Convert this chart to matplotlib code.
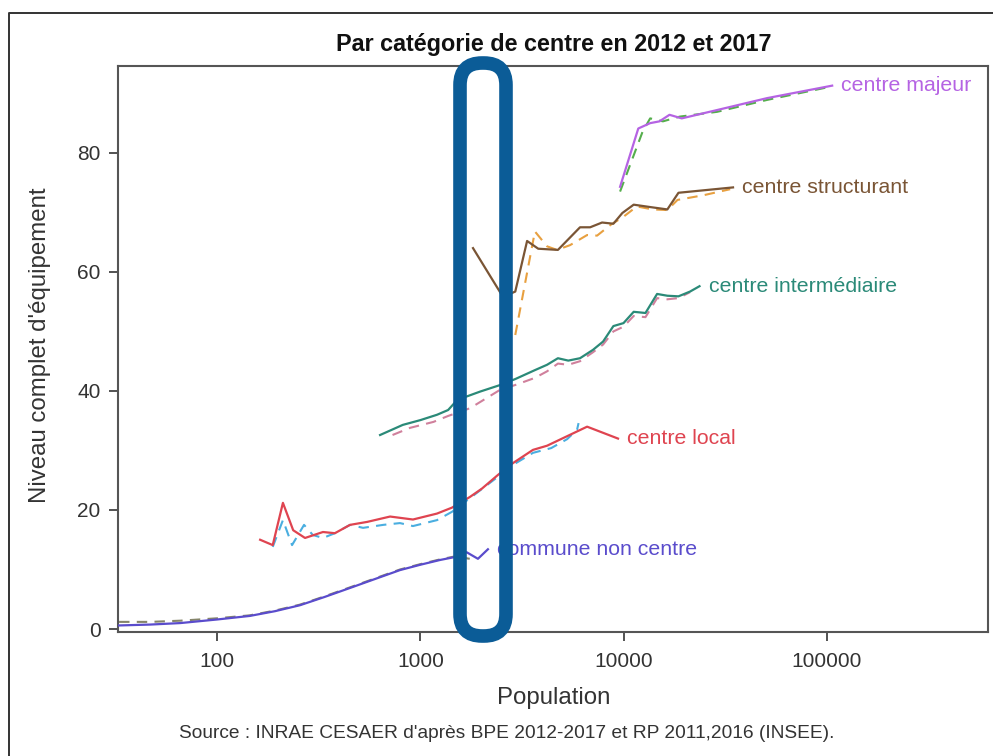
import matplotlib
matplotlib.use("Agg")
import matplotlib.pyplot as plt
from matplotlib.lines import Line2D
from matplotlib.patches import FancyBboxPatch
from matplotlib.ticker import FixedLocator, NullLocator

plt.rcParams["font.family"] = ["Liberation Sans", "DejaVu Sans"]

# 2017 (solid) and 2012 (dashed) curves, population vs equipment level
COMMUNE_POP_2017 = [33, 47, 66, 100, 145, 193, 256, 339, 451, 598, 794, 1000, 1250, 1480, 1690, 1920, 2150]
COMMUNE_VAL_2017 = [0.6, 0.75, 1.0, 1.6, 2.2, 3.0, 4.0, 5.4, 6.9, 8.4, 9.9, 10.8, 11.6, 12.1, 12.9, 11.8, 13.4]
COMMUNE_POP_2012 = [33, 47, 66, 100, 145, 193, 256, 339, 451, 598, 794, 1000, 1250, 1480, 1750]
COMMUNE_VAL_2012 = [1.2, 1.2, 1.4, 1.8, 2.3, 3.1, 4.1, 5.5, 7.0, 8.5, 10.0, 10.9, 11.7, 12.2, 11.8]

LOCAL_POP_2017 = [163, 188, 211, 237, 271, 332, 380, 451, 548, 710, 920, 1208, 1432, 1755, 2010, 2410, 2860, 3580, 4200, 5270, 6610, 9380]
LOCAL_VAL_2017 = [15.0, 14.1, 21.2, 16.6, 15.3, 16.3, 16.1, 17.5, 18.0, 18.9, 18.4, 19.4, 20.4, 22.2, 23.6, 25.9, 27.9, 30.1, 30.8, 32.4, 34.0, 32.0]
LOCAL_POP_2012 = [188, 211, 234, 268, 296, 332, 380, 451, 523, 657, 794, 920, 1208, 1432, 1755, 2410, 2860, 3580, 4400, 5270, 5900, 6000]
LOCAL_VAL_2012 = [13.8, 18.3, 14.1, 17.5, 15.8, 15.3, 16.1, 17.5, 17.0, 17.5, 17.8, 17.3, 18.3, 19.7, 22.0, 25.6, 27.6, 29.6, 30.4, 31.9, 33.5, 34.6]

INTER_POP_2017 = [634, 820, 1000, 1208, 1370, 1520, 1970, 2470, 2930, 3660, 4200, 4750, 5340, 6100, 7060, 7920, 8900, 9980, 11200, 12800, 14600, 16400, 18600, 21200, 23600]
INTER_VAL_2017 = [32.6, 34.3, 35.1, 36.0, 36.8, 38.5, 39.9, 41.0, 42.0, 43.5, 44.4, 45.5, 45.1, 45.5, 46.9, 48.3, 50.9, 51.4, 53.3, 53.1, 56.3, 56.0, 55.9, 56.7, 57.6]
INTER_POP_2012 = [730, 890, 1160, 1370, 1755, 2470, 2930, 3660, 4200, 4750, 5340, 6100, 7060, 7920, 8900, 9980, 11200, 12800, 14600, 16400, 18600, 21200]
INTER_VAL_2012 = [32.6, 33.8, 34.8, 35.8, 37.1, 40.2, 41.0, 42.2, 43.3, 44.6, 44.4, 45.0, 46.5, 47.8, 50.0, 50.8, 52.6, 52.4, 55.6, 55.4, 55.6, 56.6]

STRUCT_POP_2017 = [1816, 2550, 2930, 3350, 3800, 4750, 6100, 6840, 7830, 8900, 9850, 11200, 13500, 16400, 18600, 34500]
STRUCT_VAL_2017 = [64.0, 55.8, 56.7, 65.2, 63.9, 63.7, 67.5, 67.5, 68.3, 68.1, 69.9, 71.3, 70.9, 70.5, 73.3, 74.2]
STRUCT_POP_2012 = [2930, 3660, 4200, 4700, 5450, 6610, 7400, 8620, 10000, 11600, 13900, 16400, 18400, 24800, 33400]
STRUCT_VAL_2012 = [49.4, 66.8, 64.3, 63.7, 64.5, 66.2, 66.1, 67.9, 69.3, 71.0, 70.5, 70.4, 72.1, 72.9, 73.9]

MAJEUR_POP_2017 = [9600, 11800, 13500, 15000, 16800, 19300, 28800, 50700, 106000]
MAJEUR_VAL_2017 = [74.3, 84.1, 85.0, 85.3, 86.4, 85.8, 87.2, 89.2, 91.3]
MAJEUR_POP_2012 = [9600, 12400, 13500, 15600, 18900, 28800, 50700, 100000]
MAJEUR_VAL_2012 = [73.5, 83.6, 85.8, 85.3, 86.1, 86.9, 88.9, 91.0]

SERIES = [
    ("commune non centre", COMMUNE_POP_2017, COMMUNE_VAL_2017, COMMUNE_POP_2012, COMMUNE_VAL_2012, "#5a4ccc", "#85856a"),
    ("centre local", LOCAL_POP_2017, LOCAL_VAL_2017, LOCAL_POP_2012, LOCAL_VAL_2012, "#df4450", "#4aaee0"),
    ("centre intermédiaire", INTER_POP_2017, INTER_VAL_2017, INTER_POP_2012, INTER_VAL_2012, "#2b8a78", "#d0809c"),
    ("centre structurant", STRUCT_POP_2017, STRUCT_VAL_2017, STRUCT_POP_2012, STRUCT_VAL_2012, "#7a5535", "#e8a040"),
    ("centre majeur", MAJEUR_POP_2017, MAJEUR_VAL_2017, MAJEUR_POP_2012, MAJEUR_VAL_2012, "#b563e3", "#55ae4c"),
]

Y_TICKS = [0, 20, 40, 60, 80]
X_TICKS = [100, 1000, 10000, 100000]
X_TICK_LABELS = ["100", "1000", "10000", "100000"]

W, H = 993, 756
fig = plt.figure(figsize=(W / 100, H / 100), dpi=100)
fig.patch.set_facecolor("white")

ax = fig.add_axes([118 / W, 1 - 632 / H, 870 / W, 566 / H])
ax.set_xscale("log")
ax.set_xlim(32.6, 619000)
ax.set_ylim(-0.5, 94.6)

for name, p17, v17, p12, v12, c17, c12 in SERIES:
    ax.plot(p12, v12, color=c12, lw=1.5, ls=(0, (5, 3.5)), zorder=2)
    ax.plot(p17, v17, color=c17, lw=1.6, zorder=3)
    ax.annotate(name, (p17[-1], v17[-1]), xytext=(9, 0), textcoords="offset pixels",
                ha="left", va="center", color=c17, fontsize=15.3, zorder=4)

ax.yaxis.set_major_locator(FixedLocator(Y_TICKS))
ax.xaxis.set_major_locator(FixedLocator(X_TICKS))
ax.xaxis.set_minor_locator(NullLocator())
ax.set_xticklabels(X_TICK_LABELS)
ax.tick_params(axis="both", length=6.5, width=1.3, color="#444444", labelsize=15,
               labelcolor="#333333", direction="out")
ax.tick_params(axis="x", pad=8)
ax.tick_params(axis="y", pad=6)
for sp in ax.spines.values():
    sp.set_color("#555555")
    sp.set_linewidth(1.5)

fig.text(554 / W, 1 - 44 / H, "Par catégorie de centre en 2012 et 2017", ha="center", va="center",
         fontsize=16.8, fontweight="bold", color="#111111")
fig.text(554 / W, 1 - 698 / H, "Population", ha="center", va="center", fontsize=17.3, color="#333333")
fig.text(40 / W, 1 - 345 / H, "Niveau complet d'équipement", ha="center", va="center", rotation=90,
         fontsize=17.3, color="#333333")
fig.text(507 / W, 1 - 733 / H, "Source : INRAE CESAER d'après BPE 2012-2017 et RP 2011,2016 (INSEE).",
         ha="center", va="center", fontsize=13.8, color="#333333")

# outer frame and the highlight box drawn over the chart, in pixel units
over = fig.add_axes([0, 0, 1, 1], zorder=5)
over.set_xlim(0, W)
over.set_ylim(H, 0)
over.axis("off")
over.patch.set_alpha(0)
over.add_line(Line2D([9, 9, W], [H, 13, 13], color="#333333", lw=1.4))
over.add_patch(FancyBboxPatch((460, 63), 46, 573, boxstyle="round,pad=0,rounding_size=22",
                              fill=False, ec="#0b5c97", lw=9.8))

fig.savefig("out.png", dpi=100)
